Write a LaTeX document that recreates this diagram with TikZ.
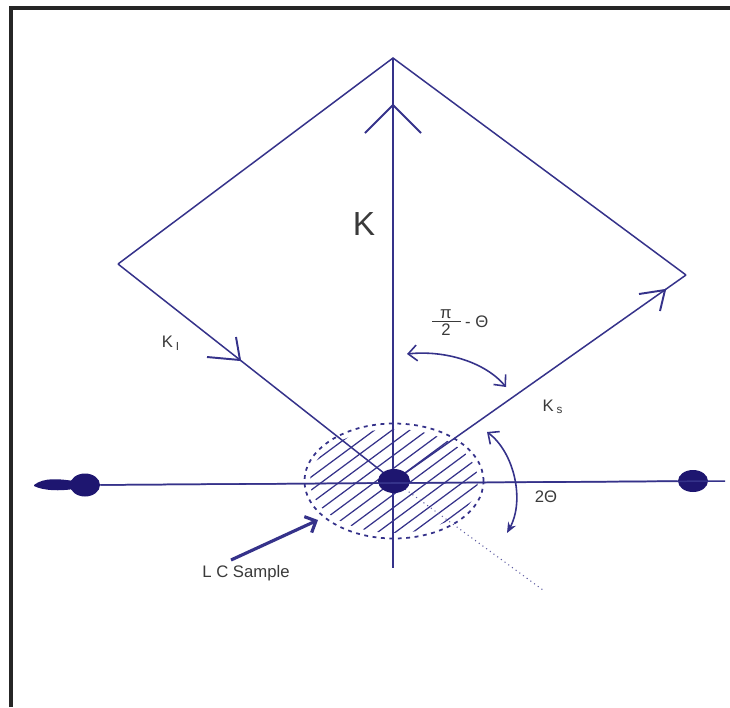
\documentclass[tikz,border=0pt]{standalone}
\usepackage{fontspec}
\setmainfont{Liberation Sans}
\usepackage{tikz}
\usetikzlibrary{arrows.meta,positioning,shapes.geometric,calc}
\definecolor{navy}{HTML}{35328A}
\definecolor{dotblue}{HTML}{1E1670}
\definecolor{txtgrey}{HTML}{3A3A3A}
\tikzset{
  beam/.style={draw=navy, line width=0.85pt},
  chevron/.style={draw=navy, line width=1.1pt, line join=miter},
  dotnode/.style={ellipse, fill=dotblue, draw=none, inner sep=0pt,
    minimum width=#1},
  dotnode/.default=0.62cm,
  labelnode/.style={font=\fontsize{9.5}{11}\selectfont, text=txtgrey, inner sep=1pt},
  hatchline/.style={draw=navy, line width=0.7pt},
  anglearrow/.style={draw=navy, line width=0.9pt},
}

\begin{document}
\begin{tikzpicture}[x=0.02cm, y=-0.02cm]
\useasboundingbox (0,0) rectangle (730,707);
\fill[white] (0,0) rectangle (730,707);

% frame (top and left only)
\draw[line width=2pt, black!85] (11,707) -- (11,8) -- (730,8);

% scattering geometry
\coordinate (apex) at (393,58);
\coordinate (kin) at (118,264);
\coordinate (kout) at (686,275);
\coordinate (centre) at (394,481);
\coordinate (axbot) at (393,568);
\coordinate (axend) at (725,481);
\coordinate (ray) at (543,590);

% sample region with hatching
\begin{scope}
  \clip (centre) ellipse [x radius=1.68cm, y radius=1.04cm];
  \foreach \s in {-8,...,8}
    \draw[hatchline] ($(centre)+(\s*0.595*10.5,\s*0.804*10.5)+(-0.804*150,0.595*150)$)
      -- ($(centre)+(\s*0.595*10.5,\s*0.804*10.5)+(0.804*150,-0.595*150)$);
\end{scope}
\draw[navy, line width=1pt, dash pattern=on 2.2pt off 2.6pt] (centre) ellipse [x radius=1.79cm, y radius=1.15cm];

% diamond of wave vectors
\draw[beam] (kin) -- (apex) -- (kout);
\draw[beam] (kin) -- (centre) -- (kout);
\draw[beam] (apex) -- (axbot);
\draw[navy!80, line width=0.6pt, dotted] (centre) -- (ray);

% detectors on the horizontal axis
\node[dotnode=0.6cm, minimum height=0.46cm] (src) at (85,485) {};
\node[dotnode=0.6cm, minimum height=0.44cm] (det) at (693,481) {};
\node[dotnode=0.64cm, minimum height=0.48cm] (O) at (centre) {};
\fill[dotblue] (34,485) .. controls (44,477) and (60,479) .. (74,481)
  -- (74,489) .. controls (60,491) and (44,491) .. (34,486) -- cycle;
\draw[beam] (src) -- (axend);
\draw[beam] (src) -- (det);

% chevrons on the beams
\draw[chevron] (365,133) -- (393,105) -- (421,133);
\draw[chevron] (236,337) -- (240,360) -- (207,357);
\draw[chevron] (639,294) -- (665,290) -- (660,311);

% angle arrows
\draw[anglearrow, {Straight Barb[length=5pt,width=9pt]}-{Straight Barb[length=5pt,width=9pt]}]
  (407,354) .. controls (445,350) and (485,362) .. (506,387);
\draw[anglearrow, {Straight Barb[length=5pt,width=9pt]}-{Stealth[length=6pt,width=5pt]}]
  (487,432) .. controls (514,452) and (525,500) .. (507,533);

% sample pointer
\coordinate (lcfoot) at (231,560);
\coordinate (lchead) at (318,520);
\draw[navy, line width=1.8pt, -{Straight Barb[length=5pt,width=10pt]}] (lcfoot) -- (lchead);

% labels
\node[labelnode, font=\fontsize{19}{22}\selectfont] (klbl) at (364,224) {K};
\node[labelnode] (kilbl) at (171,343) {K\,\textsubscript{I}};
\node[labelnode] (kslbl) at (553,407) {K\,\textsubscript{s}};
\node[labelnode] (twolbl) at (546,497) {2Θ};
\node[labelnode, anchor=south] (pilbl) at (446,321) {π};
\node[labelnode, anchor=north] (twobot) at (446,322) {2};
\draw[txtgrey, line width=0.6pt] (432,321.5) -- (461,321.5);
\node[labelnode, anchor=west] (thetalbl) at (463,322) {- Θ};
\node[labelnode] (lclbl) at (246,573) {L C Sample};

\end{tikzpicture}
\end{document}
